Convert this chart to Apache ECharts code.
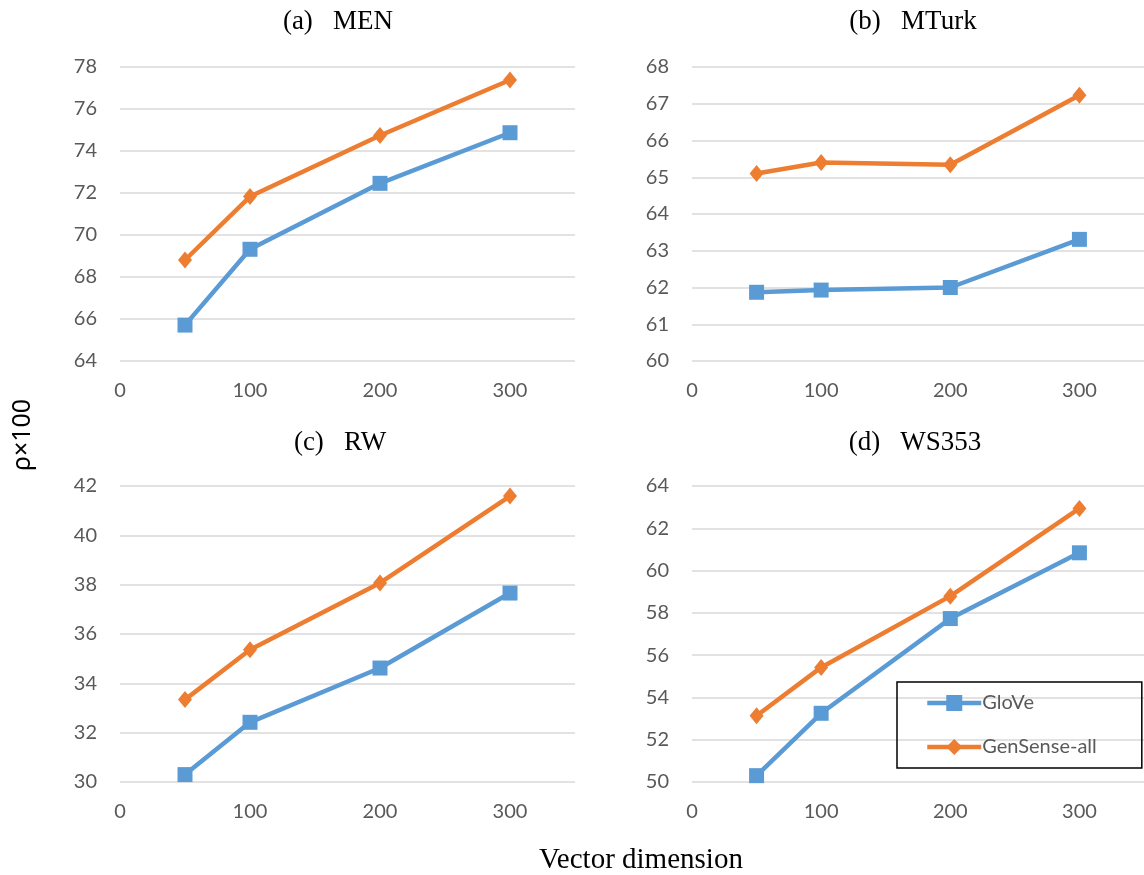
<!DOCTYPE html>
<html>
<head>
<meta charset="utf-8">
<script src="https://cdn.jsdelivr.net/npm/echarts@6/dist/echarts.min.js"></script>
<style>
html,body{margin:0;padding:0;background:#fff;}
#chart{width:1144px;height:875px;}
</style>
</head>
<body>
<div id="chart"></div>
<script>
// ---- data ----
const dims = [50, 100, 200, 300];
const xTicks = [0, 100, 200, 300];
const panelTitles = ['(a)   MEN', '(b)   MTurk', '(c)   RW', '(d)   WS353'];
const seriesNames = ['GloVe', 'GenSense-all'];

const menGlove = [65.71, 69.32, 72.46, 74.87];
const menGenSense = [68.81, 71.83, 74.74, 77.38];
const mturkGlove = [61.87, 61.93, 62.0, 63.31];
const mturkGenSense = [65.10, 65.40, 65.34, 67.23];
const rwGlove = [30.30, 32.42, 34.62, 37.66];
const rwGenSense = [33.34, 35.36, 38.07, 41.59];
const wsGlove = [50.30, 53.25, 57.73, 60.84];
const wsGenSense = [53.13, 55.42, 58.79, 62.94];

const yRanges = [[64, 78, 2], [60, 68, 1], [30, 42, 2], [50, 64, 2]];
const xLabel = 'Vector dimension';
const yLabel = 'ρ×100';

// ---- layout ----
const grids = [
  {left: 120, top: 67, width: 455, height: 294},
  {left: 692, top: 67, width: 454, height: 294},
  {left: 120, top: 486, width: 455, height: 296},
  {left: 692, top: 486, width: 454, height: 296}
];
const titleX = [338, 913, 340, 915];
const titleY = [22, 22, 443, 443];
const panels = [[menGlove, menGenSense], [mturkGlove, mturkGenSense], [rwGlove, rwGenSense], [wsGlove, wsGenSense]];

const blue = '#5B9BD5', orange = '#ED7D31';
const tickFont = {fontFamily: 'Lato', fontSize: 20, color: '#595959'};

const option = {
  animation: false,
  backgroundColor: '#fff',
  grid: grids,
  xAxis: grids.map((g, i) => ({
    type: 'value', gridIndex: i, min: 0, max: 350, interval: 100,
    axisLine: {show: false}, axisTick: {show: false}, splitLine: {show: false},
    axisLabel: Object.assign({margin: 20, showMaxLabel: false}, tickFont)
  })),
  yAxis: yRanges.map((r, i) => ({
    type: 'value', gridIndex: i, min: r[0], max: r[1], interval: r[2],
    axisLine: {show: false}, axisTick: {show: false},
    splitLine: {show: true, lineStyle: {color: '#d9d9d9', width: 1.5}},
    axisLabel: Object.assign({margin: 23}, tickFont)
  })),
  legend: {
    orient: 'vertical', left: 897, top: 682,
    data: seriesNames,
    padding: [11, 45, 11, 28],
    itemGap: 24, itemWidth: 54, itemHeight: 20,
    lineStyle: {width: 4.5},
    borderColor: '#000', borderWidth: 1.5,
    textStyle: {fontFamily: 'Lato', fontSize: 20, color: '#595959', padding: [0, 0, 0, -4]}
  },
  series: [],
  graphic: []
};

panels.forEach((p, i) => {
  option.series.push({
    name: seriesNames[0], type: 'line', xAxisIndex: i, yAxisIndex: i,
    data: dims.map((d, k) => [d, p[0][k]]),
    symbol: 'rect', symbolSize: 15,
    lineStyle: {color: blue, width: 4.5}, itemStyle: {color: blue}
  });
  option.series.push({
    name: seriesNames[1], type: 'line', xAxisIndex: i, yAxisIndex: i,
    data: dims.map((d, k) => [d, p[1][k]]),
    symbol: 'diamond', symbolSize: [14, 17],
    lineStyle: {color: orange, width: 4.5}, itemStyle: {color: orange}
  });
  option.graphic.push({
    type: 'text', x: titleX[i], y: titleY[i],
    style: {text: panelTitles[i], font: '27px "Liberation Serif"', fill: '#000', textAlign: 'center', textVerticalAlign: 'middle'}
  });
});
option.graphic.push({
  type: 'text', x: 641, y: 860,
  style: {text: xLabel, font: '29px "Liberation Serif"', fill: '#000', textAlign: 'center', textVerticalAlign: 'middle'}
});
option.graphic.push({
  type: 'text', x: 23, y: 435, rotation: Math.PI / 2,
  style: {text: yLabel, font: '25px "Noto Sans"', fill: '#000', textAlign: 'center', textVerticalAlign: 'middle'}
});

const chart = echarts.init(document.getElementById('chart'), null, {renderer: 'canvas'});
chart.setOption(option);
</script>
</body>
</html>
